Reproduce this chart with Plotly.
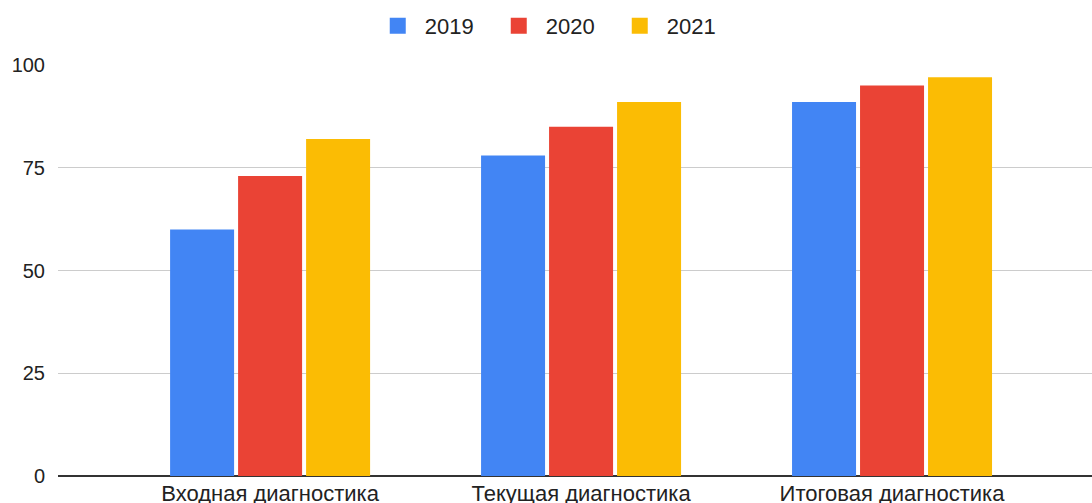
import plotly.graph_objects as go

categories = ["Входная диагностика", "Текущая диагностика", "Итоговая диагностика"]
series_names = ["2019", "2020", "2021"]
values_2019 = [60, 78, 91]
values_2020 = [73, 85, 95]
values_2021 = [82, 91, 97]
colors = ["#4285F4", "#EA4335", "#FBBC04"]
y_ticks = [0, 25, 50, 75, 100]

fig = go.Figure()
for name, vals, col in zip(series_names, [values_2019, values_2020, values_2021], colors):
    fig.add_trace(go.Bar(x=[0, 1, 2], y=vals, name=name, marker=dict(color=col, line=dict(width=0)),
                         showlegend=False, legendgroup=name))
    fig.add_trace(go.Scatter(x=[None], y=[None], mode="markers", name=name, legendgroup=name,
                             marker=dict(symbol="square", size=20, color=col)))

fig.update_layout(
    width=1092, height=503,
    margin=dict(l=58, r=0, t=65, b=27),
    paper_bgcolor="white", plot_bgcolor="white",
    font=dict(family="Liberation Sans, Arial, sans-serif", size=20, color="#222222"),
    barmode="group", bargap=0.344, bargroupgap=0.0588,
    showlegend=True,
    legend=dict(orientation="h", x=0.478, xanchor="center", y=0.99, yanchor="top",
                yref="container", font=dict(size=22, color="#222222"),
                itemsizing="trace", itemwidth=44, entrywidth=62, traceorder="normal"),
    xaxis=dict(range=[-0.682, 2.643], tickmode="array", tickvals=[0, 1, 2], ticktext=categories,
               showgrid=False, zeroline=False, showline=False, ticks="", tickfont=dict(size=22),
               ticklabelstandoff=2, automargin=False),
    yaxis=dict(range=[0, 100], tickmode="array", tickvals=y_ticks, showgrid=True,
               gridcolor="#cccccc", gridwidth=1, zeroline=True, zerolinecolor="#333333",
               zerolinewidth=1.5, showline=False, ticks="", ticklabelstandoff=12, tickfont=dict(size=20),
               automargin=False),
)
fig.write_html("out.html")
